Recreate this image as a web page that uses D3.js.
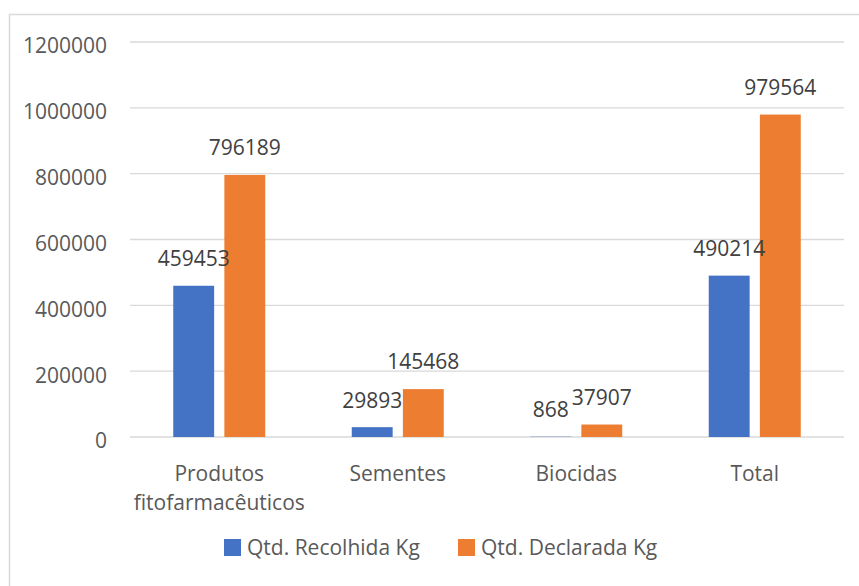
<!DOCTYPE html>
<html lang="pt">
<head>
  <meta charset="UTF-8">
  <title>Qtd. Recolhida vs Declarada</title>
  <script src="https://d3js.org/d3.v7.min.js"></script>
  <style>
    body { margin: 0; background: #fff; }
    text { font-family: "Open Sans", sans-serif; fill: #595959; }
    .grid line { stroke: #d9d9d9; stroke-width: 1.3; }
  </style>
</head>
<body>
<svg width="859" height="586"></svg>
<script>
  // data
  const categories = [["Produtos", "fitofarmacêuticos"], ["Sementes"], ["Biocidas"], ["Total"]];
  const recolhida = [459453, 29893, 868, 490214];
  const declarada = [796189, 145468, 37907, 979564];
  const seriesNames = ["Qtd. Recolhida Kg", "Qtd. Declarada Kg"];
  const colors = ["#4472c4", "#ed7d31"];
  const yTicks = [0, 200000, 400000, 600000, 800000, 1000000, 1200000];

  let svg = d3.select("svg");

  // chart border
  svg.append("rect")
    .attr("x", 9.5).attr("y", 14.5)
    .attr("width", 900).attr("height", 700)
    .attr("fill", "none")
    .attr("stroke", "#d9d9d9")
    .attr("stroke-width", 1.5);

  let x = d3.scaleBand()
    .domain(d3.range(categories.length))
    .range([130, 844]);

  let y = d3.scaleLinear()
    .domain([0, 1200000])
    .range([437, 42]);

  let xs = d3.scaleBand()
    .domain([0, 1])
    .range([x.bandwidth() / 2 - 46, x.bandwidth() / 2 + 46])
    .paddingInner(0.2);

  // gridlines
  svg.append("g").attr("class", "grid")
    .selectAll("line")
    .data(yTicks)
    .enter().append("line")
      .attr("x1", 130).attr("x2", 844)
      .attr("y1", d => y(d)).attr("y2", d => y(d));

  // y labels
  svg.append("g")
    .selectAll("text")
    .data(yTicks)
    .enter().append("text")
      .attr("x", 107)
      .attr("y", d => y(d) + 4)
      .attr("dy", "0.35em")
      .attr("text-anchor", "end")
      .attr("font-size", "21px")
      .text(d => d);

  // bars
  let rows = categories.map((c, i) => [recolhida[i], declarada[i]]);
  let groups = svg.append("g")
    .selectAll("g")
    .data(rows)
    .enter().append("g")
      .attr("transform", (d, i) => "translate(" + x(i) + ",0)");

  groups.selectAll("rect")
    .data(d => d)
    .enter().append("rect")
      .attr("x", (d, j) => xs(j))
      .attr("width", xs.bandwidth())
      .attr("y", d => y(d))
      .attr("height", d => y(0) - y(d))
      .attr("fill", (d, j) => colors[j]);

  groups.selectAll("text.val")
    .data(d => d)
    .enter().append("text")
      .attr("class", "val")
      .attr("x", (d, j) => xs(j) + xs.bandwidth() / 2)
      .attr("y", d => y(d) - 27)
      .attr("dy", "0.35em")
      .attr("text-anchor", "middle")
      .attr("font-size", "21px")
      .style("fill", "#404040")
      .text(d => d);

  // category labels
  svg.append("g")
    .selectAll("text")
    .data(categories)
    .enter().append("text")
      .attr("text-anchor", "middle")
      .attr("font-size", "21px")
      .attr("x", (d, i) => x(i) + x.bandwidth() / 2)
      .attr("y", 474)
      .each(function(d) {
        let t = d3.select(this);
        d.forEach((line, k) => {
          t.append("tspan")
            .attr("x", t.attr("x"))
            .attr("y", 474 + k * 29)
            .attr("dy", "0.35em")
            .text(line);
        });
      });

  // legend
  let legendX = [224, 458];
  let leg = svg.append("g")
    .selectAll("g")
    .data(seriesNames)
    .enter().append("g")
      .attr("transform", (d, i) => "translate(" + legendX[i] + ",539)");
  leg.append("rect")
    .attr("width", 17).attr("height", 17)
    .attr("fill", (d, i) => colors[i]);
  leg.append("text")
    .attr("x", 23).attr("y", 9)
    .attr("dy", "0.35em")
    .attr("font-size", "21px")
    .text(d => d);
</script>
</body>
</html>
